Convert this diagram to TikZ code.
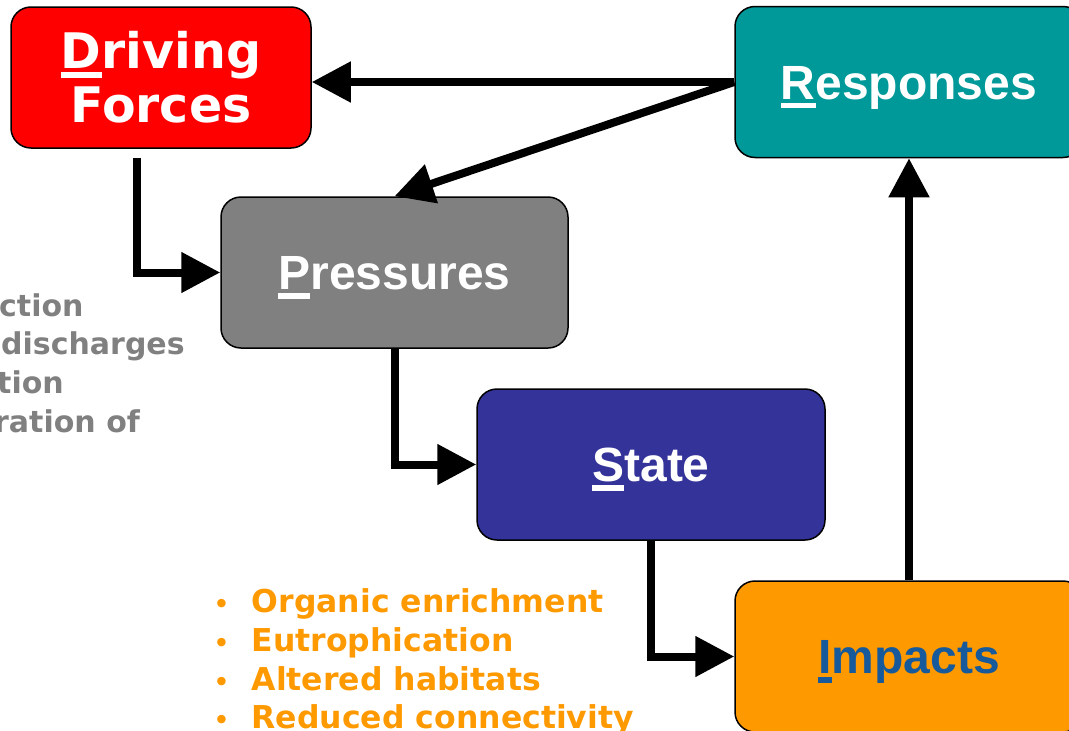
\documentclass[tikz,border=0pt]{standalone}
\usepackage{fontspec}
\usetikzlibrary{arrows.meta,calc}
\newfontfamily\verdfont{DejaVu Sans}
\newfontfamily\arialfont{Liberation Sans}
\definecolor{dfRed}{RGB}{255,0,0}
\definecolor{rsTeal}{RGB}{0,153,153}
\definecolor{prGray}{RGB}{128,128,128}
\definecolor{stNavy}{RGB}{51,51,153}
\definecolor{imOrange}{RGB}{255,153,0}
\definecolor{imBlue}{RGB}{22,90,155}
\newcommand{\firstul}[1]{\setbox0\hbox{#1}\rlap{\rule[-0.19em]{\wd0}{0.12em}}\box0}
\newcommand{\obul}{\llap{\fontsize{24}{24}\selectfont\textbullet\hspace{22.5pt}}}
\tikzset{
  box/.style={draw=black, line width=1.5pt, rounded corners=20pt, inner sep=0pt,
    minimum width=348pt, minimum height=151pt, text=white},
  arialtxt/.style={font=\arialfont\bfseries\fontsize{48}{54}\selectfont, text height=34.5pt, text depth=0pt},
  arr/.style={line width=8pt, line join=miter, -{Triangle[length=39pt,width=39pt]}},
  graytxt/.style={anchor=base west, text=prGray, inner sep=0pt, font=\verdfont\bfseries\fontsize{30}{36}\selectfont},
  orangetxt/.style={anchor=base west, text=imOrange, inner sep=0pt, font=\verdfont\bfseries\fontsize{31.5}{36}\selectfont}
}
\begin{document}
\begin{tikzpicture}[x=1pt,y=-1pt]
\useasboundingbox (0,0) rectangle (1069,731);
\clip (0,0) rectangle (1069,731);
% boxes
\node[box, fill=dfRed, minimum width=300pt, minimum height=141pt, align=center,
  font=\verdfont\bfseries\fontsize{49}{54}\selectfont] (D) at (161,77.5) {\firstul{D}riving\\Forces};
\node[box, fill=rsTeal, arialtxt] (R) at (909,82) {\firstul{R}esponses};
\node[box, fill=prGray, arialtxt, minimum width=347pt] (P) at (394.5,272.5) {\firstul{P}ressures};
\node[box, fill=stNavy, arialtxt] (S) at (651,464.5) {\firstul{S}tate};
\node[box, fill=imOrange, arialtxt, text=imBlue] (I) at (909,656.5) {\firstul{I}mpacts};
% connectors
\draw[arr] (R.west) -- (R.west -| D.east);
\draw[arr] (R.west) -- (P.north);
\draw[arr, shorten <=9pt] ([xshift=-24pt]D.south) |- (P.west);
\draw[arr] (P.south) |- (S.west);
\draw[arr] (S.south) |- (I.west);
\draw[arr] (I.north) -- (R.south);
% clipped grey text on left
\node[graytxt] (g1) at (-1,316) {ction};
\node[graytxt] (g2) at (1,354) {discharges};
\node[graytxt] (g3) at (-3,393) {tion};
\node[graytxt] (g4) at (-6,432) {ration of};
% orange bullet list
\node[orangetxt] (o1) at (251.5,612) {\obul Organic enrichment};
\node[orangetxt] (o2) at (251.5,651) {\obul Eutrophication};
\node[orangetxt] (o3) at (251.5,690) {\obul Altered habitats};
\node[orangetxt] (o4) at (251.5,728) {\obul Reduced connectivity};
\end{tikzpicture}
\end{document}
